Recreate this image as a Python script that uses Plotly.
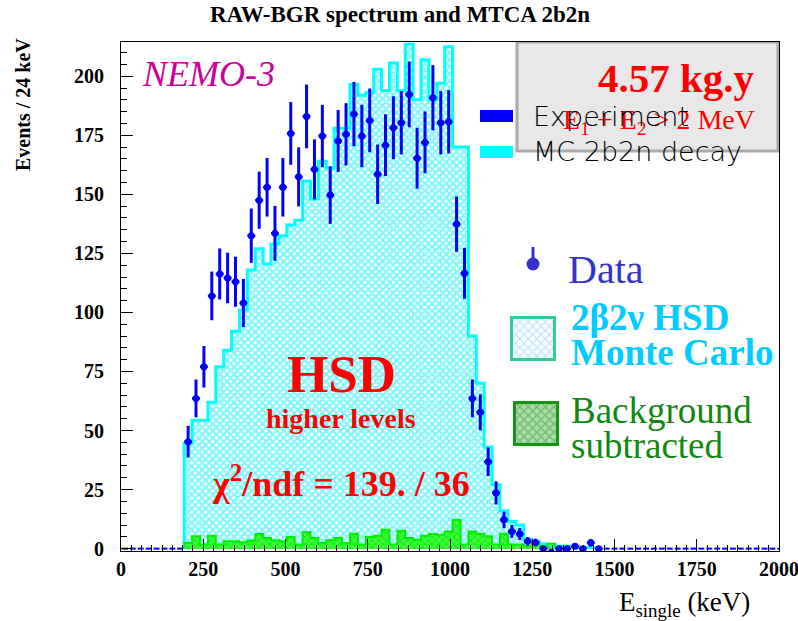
import plotly.graph_objects as go

# ---------------- data ----------------
BIN_WIDTH = 24  # keV
mc_first_bin = 8
mc_counts = [44.6, 54.4, 54.4, 62.0, 77.0, 84.0, 92.0, 101.0, 118.0, 127.0, 120.5, 129.0,
             132.5, 137.0, 139.0, 155.7, 148.0, 164.0, 161.0, 178.0, 178.0, 196.5, 192.0,
             193.0, 203.0, 194.0, 205.6, 194.0, 213.5, 190.0, 207.0, 190.0, 197.0, 212.5,
             170.0, 170.0, 90.0, 70.0, 43.0, 27.0, 16.0, 11.5, 10.0, 4.0, 3.0, 2.0, 1.5,
             1.0, 1.0, 1.0, 0.5, 0.5]

bg_first_bin = 8
bg_counts = [2.4, 5.2, 1.7, 5.5, 1.7, 3.1, 3.1, 2.7, 3.4, 6.2, 4.5, 3.5, 3.1, 4.9, 1.7, 6.9,
             4.5, 2.4, 3.5, 4.5, 2.4, 6.3, 1.7, 4.9, 5.5, 8.0, 1.7, 7.6, 4.5, 3.8, 5.5, 6.2,
             5.9, 7.3, 12.2, 1.7, 7.3, 6.3, 5.2, 1.7, 6.3, 1.7, 1.7, 1.0, 1.7, 1.0, 2.1]

data_first_bin = 8
data_counts = [45.3, 63.6, 77.0, 107.0, 116.3, 114.6, 113.0, 104.0, 132.5, 147.5, 153.0, 133.5,
               153.0, 175.8, 157.4, 183.0, 160.6, 174.7, 149.7, 172.6, 175.4, 184.0, 174.7,
               181.3, 158.5, 170.8, 178.2, 180.3, 192.3, 165.3, 172.0, 190.9, 180.3, 180.7,
               137.4, 116.6, 63.6, 57.7, 36.8, 23.6, 12.2, 7.3, 6.2, 3.1, 2.6, 0.0, -1.5, 0.0,
               0.0, 1.0, 0.0, 2.5, 0.0]
data_errors = [6.7, 8.0, 8.8, 10.3, 10.8, 10.7, 10.6, 10.2, 11.5, 12.1, 12.4, 11.6, 12.4, 13.3,
               12.5, 13.5, 12.7, 13.2, 12.2, 13.1, 13.2, 13.6, 13.2, 13.5, 12.6, 13.1, 13.3,
               13.4, 13.9, 12.9, 13.1, 13.8, 13.4, 13.4, 11.7, 10.8, 8.0, 7.6, 6.1, 4.9, 3.5,
               2.7, 2.5, 1.8, 1.6, 1.0, 1.2, 1.0, 1.0, 1.0, 1.0, 1.6, 1.0]
# empty data bins (drawn as ROOT-like horizontal bars on zero)
empty_bins = list(range(0, 8)) + list(range(61, 84))

x_ticks = [0, 250, 500, 750, 1000, 1250, 1500, 1750, 2000]
y_ticks = [0, 25, 50, 75, 100, 125, 150, 175, 200]

# ---------------- helpers ----------------
def centers(first, n):
    return [(first + i) * BIN_WIDTH + BIN_WIDTH / 2 for i in range(n)]

def step_outline(first, vals):
    left = [(first + i) * BIN_WIDTH for i in range(len(vals))]
    xs = [left[0]] + left + [left[-1] + BIN_WIDTH]
    ys = [0] + list(vals) + [0]
    return xs, ys

L, R, T, B = 121, 779, 42, 551
W, H = 798, 621

def PX(x):
    return (x - L) / (R - L)

def PY(y):
    return (B - y) / (B - T)

SERIF = "Liberation Serif"

def ann(text, x, y, size, color, xanchor="center", bold=False, italic=False,
        family=SERIF, angle=0, weight=None):
    w = weight if weight is not None else ("bold" if bold else "normal")
    return dict(text=text, x=PX(x), y=PY(y), xref="paper", yref="paper",
                xanchor=xanchor, yanchor="middle", showarrow=False, textangle=angle,
                font=dict(family=family, size=size, color=color, weight=w,
                          style="italic" if italic else "normal"))

fig = go.Figure()

# MC histogram (hatched cyan)
mc_x = centers(mc_first_bin, len(mc_counts))
fig.add_trace(go.Bar(x=mc_x, y=mc_counts, width=BIN_WIDTH,
                     marker=dict(color="white", line=dict(width=0),
                                 pattern=dict(shape="x", fgcolor="#00f0ff", bgcolor="white",
                                              size=5, solidity=0.65))))
sx, sy = step_outline(mc_first_bin, mc_counts)
fig.add_trace(go.Scatter(x=sx, y=sy, mode="lines", line=dict(color="#00ffff", width=3, shape="hv")))

# Background histogram (hatched green)
bg_x = centers(bg_first_bin, len(bg_counts))
fig.add_trace(go.Bar(x=bg_x, y=bg_counts, width=BIN_WIDTH,
                     marker=dict(color="#22ee22", line=dict(width=0),
                                 pattern=dict(shape="x", fgcolor="#11aa11", bgcolor="#33ff33",
                                              size=5, solidity=0.3))))
gx, gy = step_outline(bg_first_bin, bg_counts)
fig.add_trace(go.Scatter(x=gx, y=gy, mode="lines", line=dict(color="#00ee00", width=2, shape="hv")))

# empty data bins: horizontal bars on zero
ex = [b * BIN_WIDTH + BIN_WIDTH / 2 for b in empty_bins]
fig.add_trace(go.Scatter(x=ex, y=[0] * len(ex), mode="markers",
                         marker=dict(size=1, color="#0000ff"),
                         error_x=dict(type="constant", value=9, color="#0000ff", thickness=2, width=0)))

# data points
dx = centers(data_first_bin, len(data_counts))
fig.add_trace(go.Scatter(x=dx, y=data_counts, mode="markers",
                         marker=dict(size=7, color="#0000ff", symbol="circle"),
                         error_y=dict(type="data", array=data_errors, color="#0000ff",
                                      thickness=3, width=0),
                         error_x=dict(type="constant", value=BIN_WIDTH / 2, color="#0000ff",
                                      thickness=2.5, width=0)))

# ---------- legend decorations in a pixel-coordinate overlay axis ----------
fig.add_trace(go.Bar(x=[533.5], y=[42], base=[318], width=[43], xaxis="x2", yaxis="y2",
                     marker=dict(color="white", line=dict(color="#33cc99", width=3),
                                 pattern=dict(shape="x", fgcolor="#77ccff", bgcolor="white",
                                              size=6, solidity=0.4))))
fig.add_trace(go.Bar(x=[536.5], y=[42], base=[403], width=[43], xaxis="x2", yaxis="y2",
                     marker=dict(color="#66cc66", line=dict(color="#119911", width=3),
                                 pattern=dict(shape="x", fgcolor="#339933", bgcolor="#aaddaa",
                                              size=6, solidity=0.4))))
fig.add_trace(go.Scatter(x=[533], y=[264], mode="markers", xaxis="x2", yaxis="y2",
                         marker=dict(size=13, color="#3333cc")))

shapes = [
    dict(type="rect", xref="x2", yref="y2", x0=517, x1=778, y0=42, y1=151,
         fillcolor="#e8e8e8", line=dict(color="#aaaaaa", width=3)),
    dict(type="rect", xref="x2", yref="y2", x0=480, x1=513, y0=110, y1=122,
         fillcolor="#0000ff", line=dict(width=0)),
    dict(type="rect", xref="x2", yref="y2", x0=480, x1=513, y0=146, y1=158,
         fillcolor="#00ffff", line=dict(width=0)),
    dict(type="line", xref="x2", yref="y2", x0=533, x1=533, y0=247, y1=258,
         line=dict(color="#3333cc", width=3)),
]

annotations = [
    ann("RAW-BGR spectrum and MTCA 2b2n", 400, 14, 23, "black", bold=True),
    ann("Events / 24 keV", 23, 105, 20, "black", bold=True, angle=-90),
    ann("E<sub>single</sub> (keV)", 752, 604, 27, "black", xanchor="right"),
    ann("NEMO-3", 140, 74, 36, "#cc0099", xanchor="left", italic=True),
    ann("4.57 kg.y", 757, 78, 41, "#ff0000", xanchor="right", bold=True),
    ann("E<sub>1</sub> + E<sub>2</sub> &gt; 2 MeV", 757, 122, 28, "#ff0000", xanchor="right"),
    ann("Experiment", 531, 116, 27, "black", xanchor="left", family="DejaVu Sans", weight=300),
    ann("MC 2b2n decay", 531, 151, 27, "black", xanchor="left", family="DejaVu Sans", weight=300),
    ann("HSD", 341, 374, 53, "#ff0000", bold=True),
    ann("higher levels", 341, 418, 28, "#ff0000", bold=True),
    ann("χ<sup>2</sup>/ndf = 139. / 36", 341, 481, 36, "#ff0000", bold=True),
    ann("Data", 566, 269, 40, "#3333cc", xanchor="left"),
    ann("2β2ν HSD", 569, 317, 37, "#00ccff", xanchor="left", bold=True),
    ann("Monte Carlo", 569, 352, 37, "#00ccff", xanchor="left", bold=True),
    ann("Background", 569, 410, 37, "#118811", xanchor="left"),
    ann("subtracted", 569, 445, 37, "#118811", xanchor="left"),
]

tickfont = dict(family=SERIF, size=20, color="black", weight="bold")
fig.update_layout(
    width=W, height=H,
    margin=dict(l=L, r=W - R, t=T, b=H - B, autoexpand=False),
    plot_bgcolor="white", paper_bgcolor="white",
    showlegend=False, barmode="overlay", bargap=0,
    xaxis=dict(range=[0, 2000], tickmode="array", tickvals=x_ticks,
               ticktext=[str(v) for v in x_ticks],
               ticks="inside", ticklen=12, tickcolor="black", tickwidth=1,
               showline=True, linecolor="black", linewidth=1, mirror=True,
               showgrid=False, zeroline=False, tickfont=tickfont,
               ticklabeloverflow="allow", automargin=False,
               minor=dict(ticks="inside", ticklen=6, dtick=31.25, tick0=0,
                          tickcolor="black", showgrid=False)),
    yaxis=dict(range=[-1, 214.5], tickmode="array", tickvals=y_ticks,
               ticktext=[str(v) for v in y_ticks],
               ticks="inside", ticklen=12, tickcolor="black", tickwidth=1,
               showline=True, linecolor="black", linewidth=1, mirror=True,
               showgrid=False, zeroline=False, tickfont=tickfont, ticklabelstandoff=12,
               automargin=False,
               minor=dict(ticks="inside", ticklen=6, dtick=5, tick0=0,
                          tickcolor="black", showgrid=False)),
    xaxis2=dict(overlaying="x", anchor="y2", range=[L, R], visible=False, fixedrange=True),
    yaxis2=dict(overlaying="y", anchor="x2", range=[B, T], visible=False, fixedrange=True),
    shapes=shapes,
    annotations=annotations,
)

fig.write_html("out.html")
